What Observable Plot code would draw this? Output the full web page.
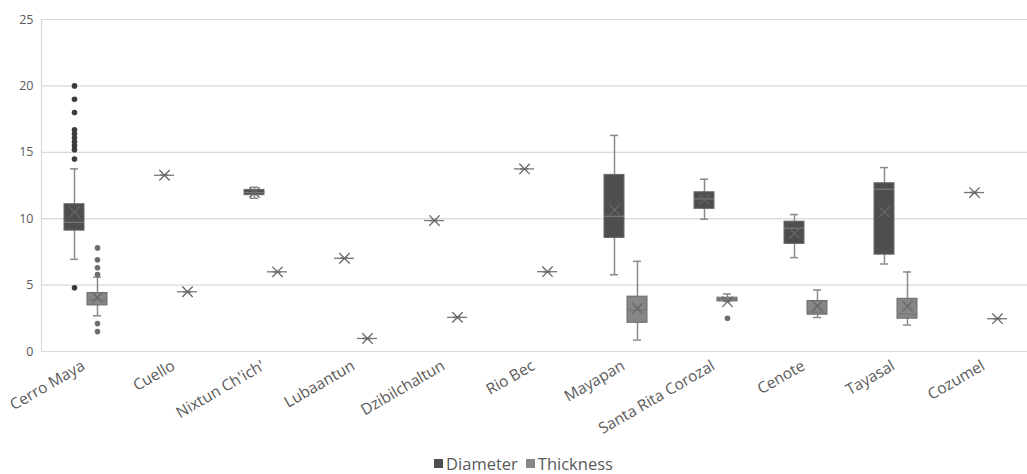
<!DOCTYPE html>
<html><head><meta charset="utf-8">
<script src="https://cdn.jsdelivr.net/npm/d3@7"></script>
<script src="https://cdn.jsdelivr.net/npm/@observablehq/plot@0.6"></script>
<style>
html,body{margin:0;padding:0;background:#fff;overflow:hidden;width:1027px;height:474px}
#legend{display:flex;justify-content:center;align-items:center;height:22px;font-family:"Open Sans",sans-serif;font-size:16.5px;color:#595959;padding-left:20px}
#legend span.sw{display:inline-block;width:9px;height:9px;margin-right:3px}
#legend span.it{display:inline-flex;align-items:center;margin:0 4px}
</style></head><body>
<div id="chart"></div>
<div id="legend"></div>
<script>
const sites = ["Cerro Maya","Cuello","Nixtun Ch'ich'","Lubaantun","Dzibilchaltun","Rio Bec","Mayapan","Santa Rita Corozal","Cenote","Tayasal","Cozumel"];
const series = ["Diameter","Thickness"];
const yTicks = [0,5,10,15,20,25];

const diaMin  = [6.94, 13.27, 11.54, 7.02, 9.86, 13.75, 5.78, 9.96, 7.07, 6.59, 11.97];
const diaQ1   = [9.10, 13.27, 11.77, 7.02, 9.86, 13.75, 8.55, 10.74, 8.10, 7.29, 11.97];
const diaMed  = [9.73, 13.27, 11.97, 7.02, 9.86, 13.75, 10.18, 11.49, 9.28, 12.22, 11.97];
const diaQ3   = [11.09, 13.27, 12.17, 7.02, 9.86, 13.75, 13.30, 11.99, 9.78, 12.67, 11.97];
const diaMax  = [13.75, 13.27, 12.37, 7.02, 9.86, 13.75, 16.27, 12.97, 10.31, 13.85, 11.97];
const diaMean = [10.50, 13.27, 11.97, 7.02, 9.86, 13.75, 10.66, 11.44, 8.90, 10.51, 11.97];

const thkMin  = [2.69, 4.50, 6.00, 0.98, 2.57, 6.01, 0.86, 3.77, 2.56, 1.99, 2.47];
const thkQ1   = [3.47, 4.50, 6.00, 0.98, 2.57, 6.01, 2.16, 3.77, 2.77, 2.47, 2.47];
const thkMed  = [3.90, 4.50, 6.00, 0.98, 2.57, 6.01, 3.12, 3.95, 2.97, 2.82, 2.47];
const thkQ3   = [4.40, 4.50, 6.00, 0.98, 2.57, 6.01, 4.13, 4.05, 3.80, 3.97, 2.47];
const thkMax  = [5.60, 4.50, 6.00, 0.98, 2.57, 6.01, 6.79, 4.33, 4.63, 5.99, 2.47];
const thkMean = [4.07, 4.50, 6.00, 0.98, 2.57, 6.01, 3.24, 3.75, 3.42, 3.42, 2.47];

const cerroDiaOutliers = [20, 19, 18, 16.7, 16.4, 16.1, 15.8, 15.5, 15.2, 14.5, 4.8];
const cerroThkOutliers = [7.8, 6.9, 6.3, 5.8, 2.1, 1.5];
const santaRitaThkOutliers = [2.5];

const colors = ["#4e4e4e", "#868686"];
const dotColors = ["#3c3c3c", "#6c6c6c"];

const rows = [];
sites.forEach((s, i) => {
  rows.push({site: s, series: "Diameter", min: diaMin[i], q1: diaQ1[i], med: diaMed[i], q3: diaQ3[i], max: diaMax[i], mean: diaMean[i]});
  rows.push({site: s, series: "Thickness", min: thkMin[i], q1: thkQ1[i], med: thkMed[i], q3: thkQ3[i], max: thkMax[i], mean: thkMean[i]});
});
const outliers = [
  ...cerroDiaOutliers.map(v => ({site: "Cerro Maya", series: "Diameter", value: v})),
  ...cerroThkOutliers.map(v => ({site: "Cerro Maya", series: "Thickness", value: v})),
  ...santaRitaThkOutliers.map(v => ({site: "Santa Rita Corozal", series: "Thickness", value: v}))
];

const chart = Plot.plot({
  width: 1027, height: 452,
  marginLeft: 37, marginRight: -8, marginTop: 19, marginBottom: 101,
  style: {fontFamily: "Open Sans", fontSize: "12px", color: "#595959", background: "white", overflow: "hidden"},
  fx: {domain: sites, padding: 0, label: null, axis: null},
  x: {domain: series, paddingInner: 0.125, paddingOuter: 0.953, axis: null},
  y: {domain: [0, 25], label: null, axis: null},
  color: {domain: series, range: colors},
  marks: [
    Plot.gridY(yTicks, {stroke: "#d9d9d9", strokeOpacity: 1, strokeWidth: 1.2}),
    Plot.frame({anchor: "left", stroke: "#d9d9d9", strokeWidth: 1.2, facetAnchor: "left"}),
    Plot.axisY(yTicks, {tickSize: 0, tickPadding: 8, label: null, fontSize: 12.5, fill: "#595959"}),
    Plot.axisFx({anchor: "bottom", tickRotate: -30, tickSize: 0, tickPadding: 13, dx: -3, label: null, fontSize: 15.5, fill: "#595959"}),
    Plot.ruleX(rows, {fx: "site", x: "series", y1: "min", y2: "q1", stroke: "#8a8a8a", strokeWidth: 1.5}),
    Plot.ruleX(rows, {fx: "site", x: "series", y1: "q3", y2: "max", stroke: "#8a8a8a", strokeWidth: 1.5}),
    Plot.tickY(rows, {fx: "site", x: "series", y: "min", stroke: "#8a8a8a", strokeWidth: 1.5, insetLeft: 6, insetRight: 6}),
    Plot.tickY(rows, {fx: "site", x: "series", y: "max", stroke: "#8a8a8a", strokeWidth: 1.5, insetLeft: 6, insetRight: 6}),
    Plot.barY(rows, {fx: "site", x: "series", y1: "q1", y2: "q3", fill: "series", stroke: "#6a6a6a", strokeWidth: 1}),
    Plot.tickY(rows, {fx: "site", x: "series", y: "med", stroke: "#777", strokeWidth: 1.3}),
    Plot.dot(rows, {fx: "site", x: "series", y: "mean", symbol: "times", r: 4.8, stroke: "#666", strokeWidth: 1.3}),
    Plot.dot(outliers, {fx: "site", x: "series", y: "value", r: 2.8, fill: d => dotColors[series.indexOf(d.series)], stroke: null})
  ]
});
document.getElementById("chart").appendChild(chart);

const legend = document.getElementById("legend");
series.forEach((s, i) => {
  const it = document.createElement("span");
  it.className = "it";
  it.innerHTML = `<span class="sw" style="background:${colors[i]}"></span>${s}`;
  legend.appendChild(it);
});
</script>
</body></html>
